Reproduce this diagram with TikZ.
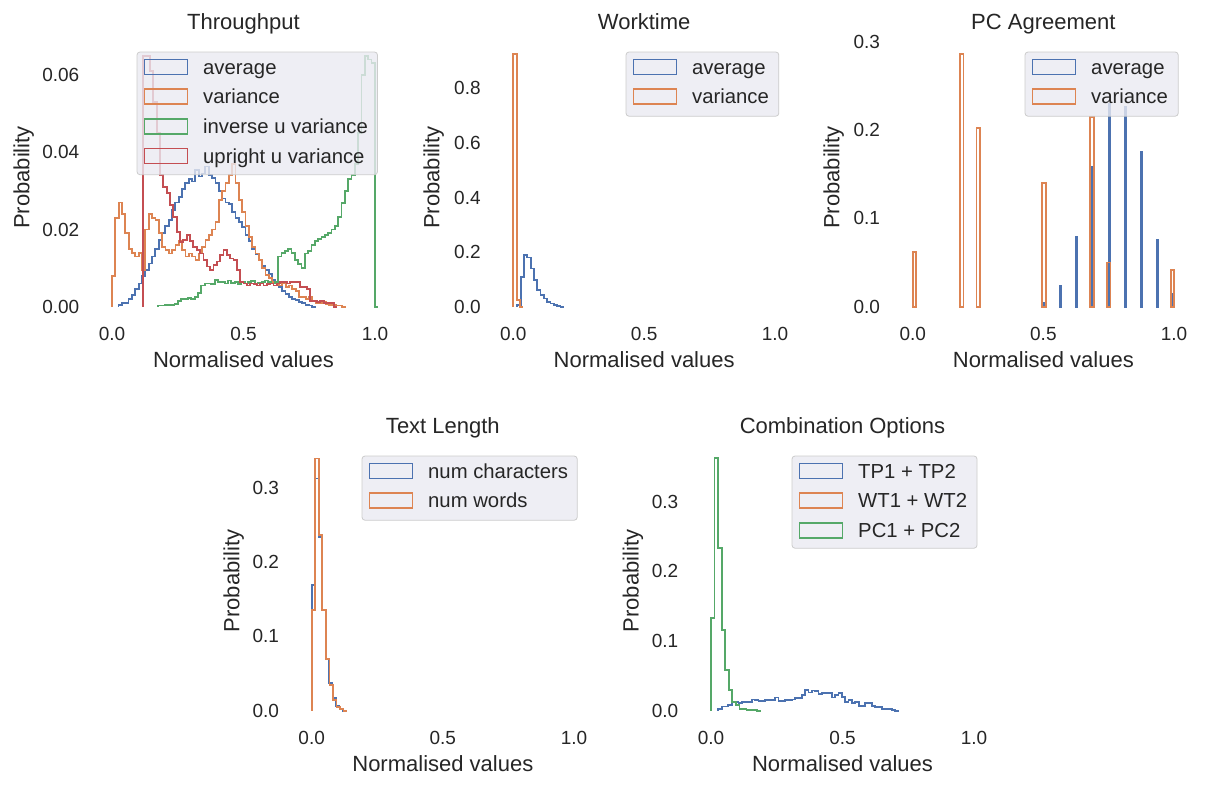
\documentclass[tikz,border=0pt]{standalone}
\usepackage{fontspec}
\setmainfont{Liberation Sans}
\usepackage{tikz}

\definecolor{sbblue}{HTML}{4C72B0}
\definecolor{sborange}{HTML}{DD8452}
\definecolor{sbgreen}{HTML}{55A868}
\definecolor{sbred}{HTML}{C44E52}
\definecolor{legfill}{HTML}{EAEAF2}
\definecolor{legedge}{HTML}{CCCCCC}
\definecolor{txtgray}{HTML}{262626}

\tikzset{
	histblue/.style={draw=sbblue, line width=1.8pt},
	historange/.style={draw=sborange, line width=1.8pt},
	histgreen/.style={draw=sbgreen, line width=1.8pt},
	histred/.style={draw=sbred, line width=1.8pt},
	legpatch/.style={line width=1.6pt},
	plottitle/.style={anchor=base, inner sep=0pt, text=txtgray, font=\fontsize{22}{26}\selectfont},
	axlabel/.style={anchor=base, inner sep=0pt, text=txtgray, font=\fontsize{22}{26}\selectfont},
	ytick/.style={anchor=east, inner sep=0pt, text=txtgray, font=\fontsize{19}{22}\selectfont},
	xtick/.style={anchor=base, inner sep=0pt, text=txtgray, font=\fontsize{19}{22}\selectfont},
	legbox/.style={draw=legedge, line width=0.8pt, fill=legfill, fill opacity=0.8, rounded corners=3pt},
	legtext/.style={anchor=base west, inner sep=0pt, text=txtgray, font=\fontsize{20.3}{24}\selectfont}
}

% step histogram: style, first edge, bin width, heights
\newcommand{\stephist}[4]{%
	\draw[#1] (#2,0) \foreach \hh [count=\ii from 0] in {#4} {-- ({#2+\ii*#3},\hh) -- ({#2+(\ii+1)*#3},\hh)};%
}

\begin{document}
\begin{tikzpicture}[x=1pt, y=-1pt]
	\useasboundingbox (0,0) rectangle (1210,790);
	\fill[white] (0,0) rectangle (1210,790);

	% Throughput
	\begin{scope}[xshift=112pt, yshift=-306.7pt, x=263pt, y=3.862pt]
		\stephist{histblue}{0.025}{0.0127}{0.5,1,1,2,3,4.5,6,8,9.5,11.2,13,15,17.3,19,21,22.5,25,27,28.5,30.5,32,33,32.4,35.4,33.7,34.5,36.3,34,33.3,32,30,28,27,26.5,24.6,23,22,20.7,18.5,17,15,13.5,12,10.5,9.5,8.5,7,6,5,4,3.3,2.6,2,1.7,1.2,0.9,0.5,0.3,0}
		\stephist{historange}{0}{0.0127}{8,23,27,24,19,15,14,13,14,9.5,20,24,23,22.5,19,15.5,14.7,13.8,14.7,16,17,14.7,13,13.8,13,12,13.8,15.5,17.3,18.6,20,22,27.6,30,32,34,37,32,27.6,24.6,21,18,15.5,13.8,12,10,8.2,7.4,6.5,6,5.5,6,5,5.5,4.5,4,2.6,2.6,2,2.6,1.5,1,1,1.2,0.8,0.5,0.5,0.3,0.3,0}
		\stephist{histgreen}{0.1745}{0.0127}{0.3,0.3,0.5,0.5,0.5,0.8,1.5,2,2,2.2,2,2.5,3.5,5.5,6,6,5.8,7,6.5,6.5,6,6.8,6.2,6.5,5.8,6.5,6,6.3,6.6,6,6.2,6.5,6.8,6.3,6,6.5,13,14,14.5,15,14,12,11,10,13.8,14.5,16,17,17.5,18,18.5,19,20,21,23.3,26.8,30,33,34,37,45,60,65,64,63,0}
		\stephist{histred}{0.119}{0.0127}{65,65,61,53,45,34,31,29.4,26.3,23.3,19.4,16.8,17.3,18.6,17,15.5,14.7,13.8,12.1,10.4,9.5,10.8,11.7,13.4,14.7,13.4,12.5,12.1,9.5,6.5,6,5.5,6,5.8,5.5,6,5.5,5.8,6,5.5,6,6.3,6.5,6,6.3,6.5,6.3,5,5,4.5,1.5,1.5,1.2,1.5,1,1,1,0}
		\node[plottitle, yshift=277.4pt] (tp-title) at (0.5,0) {Throughput};
		\node[axlabel, yshift=-61pt] (tp-xlabel) at (0.5,0) {Normalised values};
		\node[axlabel, xshift=-82.7pt, yshift=129.2pt, rotate=90] (tp-ylabel) at (0,0) {Probability};
		\foreach \v/\lab [count=\i] in {0/0.00,20/0.02,40/0.04,60/0.06}
			\node[ytick, xshift=-32.5pt] (tp-y\i) at (0,\v) {\lab};
		\foreach \v [count=\i] in {0.0,0.5,1.0}
			\node[xtick, yshift=-34pt] (tp-x\i) at (\v,0) {\v};
		% legend
		\begin{scope}[x=1pt, y=-1pt]
			\draw[legbox] (25,-254.7) rectangle (265.5,-132);
			\foreach \c/\lab [count=\i] in {sbblue/average, sborange/variance, sbgreen/inverse u variance, sbred/upright u variance} {
				\draw[legpatch, draw=\c] (32.5,{-247.2+(\i-1)*29.7}) rectangle ++(43,15);
				\node[legtext] (tp-leg\i) at (91,{-232.7+(\i-1)*29.7}) {\lab};
			}
		\end{scope}
	\end{scope}

	% Worktime
	\begin{scope}[xshift=513.3pt, yshift=-306.7pt, x=261.7pt, y=0.273pt]
		\stephist{histblue}{0.0153}{0.0127}{5,110,190,180,140,98,60,43,30,18,12,6,3,0}
		\stephist{historange}{0}{0.0127}{925,25,0}
		\node[plottitle, yshift=277.4pt] (wt-title) at (0.5,0) {Worktime};
		\node[axlabel, yshift=-61pt] (wt-xlabel) at (0.5,0) {Normalised values};
		\node[axlabel, xshift=-74pt, yshift=129.2pt, rotate=90] (wt-ylabel) at (0,0) {Probability};
		\foreach \v/\lab [count=\i] in {0/0.0,200/0.2,400/0.4,600/0.6,800/0.8}
			\node[ytick, xshift=-32.5pt] (wt-y\i) at (0,\v) {\lab};
		\foreach \v [count=\i] in {0.0,0.5,1.0}
			\node[xtick, yshift=-34pt] (wt-x\i) at (\v,0) {\v};
		% legend
		\begin{scope}[x=1pt, y=-1pt]
			\draw[legbox] (112.7,-254.7) rectangle (265.5,-190.5);
			\foreach \c/\lab [count=\i] in {sbblue/average, sborange/variance} {
				\draw[legpatch, draw=\c] (120.2,{-247.2+(\i-1)*29.7}) rectangle ++(43,15);
				\node[legtext] (wt-leg\i) at (178.7,{-232.7+(\i-1)*29.7}) {\lab};
			}
		\end{scope}
	\end{scope}

	% PC Agreement
	\begin{scope}[xshift=912.7pt, yshift=-306.7pt, x=261.3pt, y=0.883pt]
		\foreach \a/\b/\h in {0.5/0.504/4, 0.5625/0.568/23.8, 0.624/0.63/78.6, 0.686/0.692/158.5, 0.749/0.755/230, 0.811/0.817/226.5, 0.873/0.879/175, 0.935/0.941/75.5, 0.995/1.0/14.4}
			\draw[histblue, fill=sbblue] (\a,0) rectangle (\b,\h);
		\foreach \a/\b/\h in {0/0.0127/61.6, 0.181/0.194/286, 0.244/0.257/202, 0.494/0.51/140, 0.68/0.693/214.5, 0.744/0.757/50, 0.987/1.0/41.6}
			\draw[historange] (\a,0) rectangle (\b,\h);
		\node[plottitle, yshift=277.4pt] (pc-title) at (0.5,0) {PC Agreement};
		\node[axlabel, yshift=-61pt] (pc-xlabel) at (0.5,0) {Normalised values};
		\node[axlabel, xshift=-73.4pt, yshift=129.2pt, rotate=90] (pc-ylabel) at (0,0) {Probability};
		\foreach \v/\lab [count=\i] in {0/0.0,100/0.1,200/0.2,300/0.3}
			\node[ytick, xshift=-32.5pt] (pc-y\i) at (0,\v) {\lab};
		\foreach \v [count=\i] in {0.0,0.5,1.0}
			\node[xtick, yshift=-34pt] (pc-x\i) at (\v,0) {\v};
		% legend
		\begin{scope}[x=1pt, y=-1pt]
			\draw[legbox] (112.3,-254.7) rectangle (265.5,-190.5);
			\foreach \c/\lab [count=\i] in {sbblue/average, sborange/variance} {
				\draw[legpatch, draw=\c] (119.8,{-247.2+(\i-1)*29.7}) rectangle ++(43,15);
				\node[legtext] (pc-leg\i) at (178.3,{-232.7+(\i-1)*29.7}) {\lab};
			}
		\end{scope}
	\end{scope}

	% Text Length
	\begin{scope}[xshift=311.7pt, yshift=-710.7pt, x=262.3pt, y=0.744pt]
		\stephist{histblue}{0}{0.0132}{169,312,234,135,70,37,17,6,2,0}
		\stephist{historange}{0}{0.0135}{135,339,236,135,70,35,14,5,2,0}
		\node[plottitle, yshift=277.4pt] (tl-title) at (0.5,0) {Text Length};
		\node[axlabel, yshift=-61pt] (tl-xlabel) at (0.5,0) {Normalised values};
		\node[axlabel, xshift=-72.4pt, yshift=129.7pt, rotate=90] (tl-ylabel) at (0,0) {Probability};
		\foreach \v/\lab [count=\i] in {0/0.0,100/0.1,200/0.2,300/0.3}
			\node[ytick, xshift=-32.5pt] (tl-y\i) at (0,\v) {\lab};
		\foreach \v [count=\i] in {0.0,0.5,1.0}
			\node[xtick, yshift=-34pt] (tl-x\i) at (\v,0) {\v};
		% legend
		\begin{scope}[x=1pt, y=-1pt]
			\draw[legbox] (50.3,-254.7) rectangle (265.5,-190.5);
			\foreach \c/\lab [count=\i] in {sbblue/num characters, sborange/num words} {
				\draw[legpatch, draw=\c] (57.8,{-247.2+(\i-1)*29.7}) rectangle ++(43,15);
				\node[legtext] (tl-leg\i) at (116.3,{-232.7+(\i-1)*29.7}) {\lab};
			}
		\end{scope}
	\end{scope}

	% Combination Options
	\begin{scope}[xshift=711pt, yshift=-710.7pt, x=263pt, y=0.697pt]
		\stephist{histblue}{0.028}{0.0127}{3,6,6,8,12,12,11,12,12,12,16,15,14,14,15,15,15,19,14,14,15,15,16,18,18,22,30,26,29,28,24,25,25,25,19,22,25,20,13,15,11,13,7,7,11,11,7,5,5,2,2,2,0.5,0}
		\stephist{histgreen}{0}{0.0135}{133,362,234,116,58,30,13,8,3,3,1,1,1,0}
		\node[plottitle, yshift=277.4pt] (co-title) at (0.5,0) {Combination Options};
		\node[axlabel, yshift=-61pt] (co-xlabel) at (0.5,0) {Normalised values};
		\node[axlabel, xshift=-72.3pt, yshift=129.7pt, rotate=90] (co-ylabel) at (0,0) {Probability};
		\foreach \v/\lab [count=\i] in {0/0.0,100/0.1,200/0.2,300/0.3}
			\node[ytick, xshift=-32.5pt] (co-y\i) at (0,\v) {\lab};
		\foreach \v [count=\i] in {0.0,0.5,1.0}
			\node[xtick, yshift=-34pt] (co-x\i) at (\v,0) {\v};
		% legend
		\begin{scope}[x=1pt, y=-1pt]
			\draw[legbox] (81,-254.7) rectangle (266,-162.5);
			\foreach \c/\lab [count=\i] in {sbblue/TP1 + TP2, sborange/WT1 + WT2, sbgreen/PC1 + PC2} {
				\draw[legpatch, draw=\c] (88.5,{-247.2+(\i-1)*29.7}) rectangle ++(43,15);
				\node[legtext] (co-leg\i) at (147,{-232.7+(\i-1)*29.7}) {\lab};
			}
		\end{scope}
	\end{scope}
\end{tikzpicture}
\end{document}
